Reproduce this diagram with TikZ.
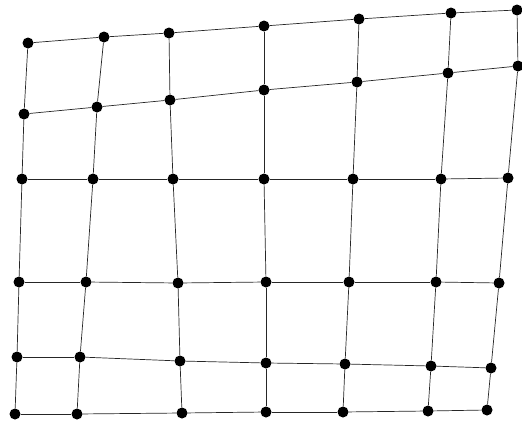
\documentclass[tikz,border=0pt]{standalone}
\begin{document}
\begin{tikzpicture}[x=1pt,y=-1pt,
  dot/.style={circle,fill=black,inner sep=0pt,minimum size=11pt},
  gridline/.style={draw=black!85,line width=0.7pt}]
\useasboundingbox (0,0) rectangle (522,423);
% rows r1..r6, columns c1..c7
\foreach \x/\y [count=\i] in {28/43,104/37,169/33,264/26,359/19,451/13,517/10}
  \node[dot] (d1-\i) at (\x,\y) {};
\foreach \x/\y [count=\i] in {24/114,97/107,170/100,264/90,357/82,448/73,518/66}
  \node[dot] (d2-\i) at (\x,\y) {};
\foreach \x/\y [count=\i] in {22/179,93/179,173/179,264/179,353/179,441/179,508/178}
  \node[dot] (d3-\i) at (\x,\y) {};
\foreach \x/\y [count=\i] in {19/282,86/282,178/283,266/282,349/282,436/282,499/283}
  \node[dot] (d4-\i) at (\x,\y) {};
\foreach \x/\y [count=\i] in {17/357,80/357,180/361,266/363,345/364,431/366,491/368}
  \node[dot] (d5-\i) at (\x,\y) {};
\foreach \x/\y [count=\i] in {15/414,77/414,182/413,266/412,343/412,428/411,487/410}
  \node[dot] (d6-\i) at (\x,\y) {};
% horizontal connectors
\foreach \r in {1,2,3,4,5,6}
  \foreach \a/\b in {1/2,2/3,3/4,4/5,5/6,6/7}
    \draw[gridline] (d\r-\a) -- (d\r-\b);
% vertical connectors
\foreach \c in {1,2,3,4,5,6,7}
  \foreach \a/\b in {1/2,2/3,3/4,4/5,5/6}
    \draw[gridline] (d\a-\c) -- (d\b-\c);
\end{tikzpicture}
\end{document}
